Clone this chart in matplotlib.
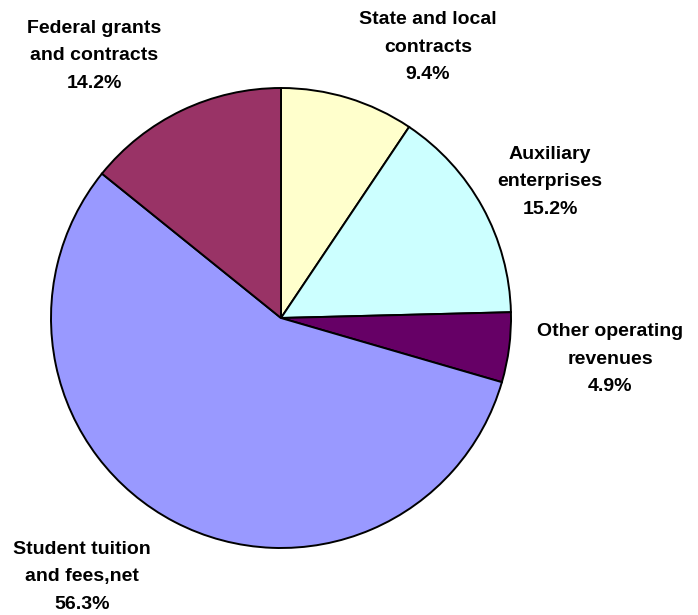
import matplotlib.pyplot as plt

# slices, clockwise from 12 o'clock
labels = ["State and local\ncontracts", "Auxiliary\nenterprises",
          "Other operating\nrevenues", "Student tuition\nand fees,net",
          "Federal grants\nand contracts"]
shares = [9.4, 15.2, 4.9, 56.3, 14.2]
colors = ["#FFFFCC", "#CCFFFF", "#660066", "#9999FF", "#993366"]

# label anchor points in pixel coords (x, y from top)
label_pos = [(428, 47), (550, 182), (610, 359), (82, 577), (94, 56)]

W, H = 698, 615
fig = plt.figure(figsize=(W / 100, H / 100), dpi=100)
ax = fig.add_axes([0, 0, 1, 1])
ax.set_xlim(0, W)
ax.set_ylim(0, H)
ax.set_aspect('equal')
ax.axis('off')

ax.pie(shares, colors=colors, startangle=90, counterclock=False,
       center=(281, H - 318), radius=230,
       wedgeprops=dict(edgecolor='black', linewidth=1.4))
ax.set_xlim(0, W)
ax.set_ylim(0, H)

for lab, v, (x, y) in zip(labels, shares, label_pos):
    ax.text(x, H - y, "%s\n%.1f%%" % (lab, v), ha='center', va='center',
            fontsize=14, fontweight='bold', family='Liberation Sans',
            linespacing=1.8)

fig.savefig("out.png", dpi=100)
